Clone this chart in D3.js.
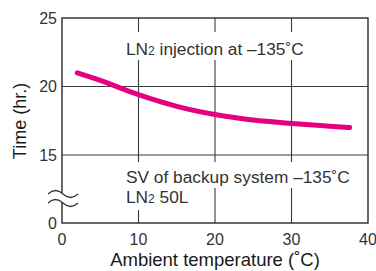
<!DOCTYPE html>
<html>
<head>
<meta charset="utf-8">
<script src="https://cdn.jsdelivr.net/npm/d3@7"></script>
<style>
  html, body { margin: 0; padding: 0; background: #fff; }
  svg { display: block; font-family: "Liberation Sans", Arial, sans-serif; }
</style>
</head>
<body>
<svg id="chart" width="376" height="271"></svg>
<script>
// ---- data ----
const temperature = [2, 5, 10, 15, 20, 25, 30, 35, 37.6];
const hours       = [21.0, 20.45, 19.4, 18.55, 17.95, 17.55, 17.3, 17.1, 17.0];
const xTicks = [0, 10, 20, 30, 40];
const yTicks = [0, 15, 20, 25];
const xLabel = "Ambient temperature (˚C)";
const yLabel = "Time (hr.)";
const note1 = "injection at –135˚C";
const note2 = "SV of backup system –135˚C";
const note3 = "50L";

(function () {
const svg = d3.select("#chart");
const mLeft = 62, mRight = 368, mTop = 18, mBottom = 223;

const x = d3.scaleLinear().domain([0, 40]).range([mLeft, mRight]);
// broken axis: 0..15 compressed
const y = d3.scaleLinear().domain([0, 15, 25]).range([mBottom, 155, mTop]);

const gridColor = "#3a3a3a";

// vertical grid lines
svg.append("g").selectAll("line").data([10, 20, 30]).join("line")
  .attr("x1", d => x(d)).attr("x2", d => x(d))
  .attr("y1", mTop).attr("y2", mBottom)
  .attr("stroke", gridColor).attr("stroke-width", 1.1);

// horizontal grid lines
svg.append("g").selectAll("line").data([15, 20]).join("line")
  .attr("x1", mLeft).attr("x2", mRight)
  .attr("y1", d => y(d)).attr("y2", d => y(d))
  .attr("stroke", gridColor).attr("stroke-width", 1.1);

// white backgrounds behind annotations
const masks = [
  {x: 118, y: 32, w: 200, h: 28},
  {x: 118, y: 162, w: 240, h: 26},
  {x: 118, y: 187, w: 70, h: 23}
];
svg.append("g").selectAll("rect").data(masks).join("rect")
  .attr("x", d => d.x).attr("y", d => d.y)
  .attr("width", d => d.w).attr("height", d => d.h)
  .attr("fill", "#fff");

// curve
const line = d3.line()
  .x((d, i) => x(temperature[i]))
  .y(d => y(d))
  .curve(d3.curveMonotoneX);
svg.append("path")
  .datum(hours)
  .attr("d", line)
  .attr("fill", "none")
  .attr("stroke", "#e4007f")
  .attr("stroke-width", 5)
  .attr("stroke-linecap", "round");

// frame
svg.append("rect")
  .attr("x", mLeft).attr("y", mTop)
  .attr("width", mRight - mLeft).attr("height", mBottom - mTop)
  .attr("fill", "none").attr("stroke", "#2a2a2a").attr("stroke-width", 1.4);

// axis break symbol
const bx = mLeft - 14, bw = 30;
const by1 = 194, by2 = 203;
svg.append("path")
  .attr("d", `M${bx},${by1} q${bw/4},-7 ${bw/2},0 t${bw/2},0 L${bx+bw},${by2} q-${bw/4},7 -${bw/2},0 t-${bw/2},0 Z`)
  .attr("fill", "#fff").attr("stroke", "none");
[by1, by2].forEach(b => {
  svg.append("path")
    .attr("d", `M${bx},${b} q${bw/4},-7 ${bw/2},0 t${bw/2},0`)
    .attr("fill", "none").attr("stroke", "#333").attr("stroke-width", 1.2);
});

// y tick labels
svg.append("g").selectAll("text").data(yTicks).join("text")
  .attr("x", mLeft - 5).attr("y", d => y(d))
  .attr("dy", "0.36em")
  .attr("text-anchor", "end")
  .attr("font-size", 16).attr("fill", "#333")
  .text(d => d);

// x tick labels
svg.append("g").selectAll("text").data(xTicks).join("text")
  .attr("x", d => x(d)).attr("y", 245)
  .attr("text-anchor", "middle")
  .attr("font-size", 16).attr("fill", "#333")
  .text(d => d);

// axis titles
svg.append("text")
  .attr("x", 215).attr("y", 266)
  .attr("text-anchor", "middle")
  .attr("font-size", 18.5).attr("fill", "#1a1a1a")
  .text(xLabel);

svg.append("text")
  .attr("transform", "translate(26,121) rotate(-90)")
  .attr("text-anchor", "middle")
  .attr("font-size", 18).attr("fill", "#1a1a1a")
  .text(yLabel);

// annotations
function ln2(sel, xx, yy, rest) {
  const t = sel.append("text").attr("x", xx).attr("y", yy)
    .attr("font-size", 17.3).attr("fill", "#333");
  t.append("tspan").text("LN");
  t.append("tspan").attr("font-size", 12).text("2");
  t.append("tspan").text(" " + rest);
}
ln2(svg, 126, 55, note1);
svg.append("text").attr("x", 126).attr("y", 183)
  .attr("font-size", 17.3).attr("fill", "#333").text(note2);
ln2(svg, 126, 203, note3);
})();
</script>
</body>
</html>
